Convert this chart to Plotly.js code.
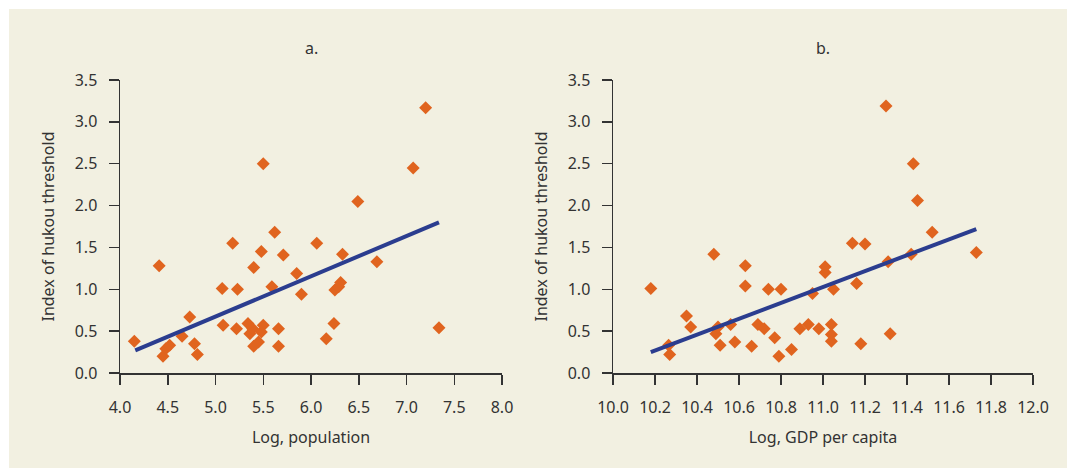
<!DOCTYPE html>
<html>
<head>
<meta charset="utf-8">
<script src="https://cdn.plot.ly/plotly-3.0.1.min.js"></script>
<style>
html,body{margin:0;padding:0;background:#fff;}
#chart{width:1067px;height:470px;}
</style>
</head>
<body>
<div id="chart"></div>
<script>
// Panel a: log population vs hukou index
const popX = [4.15,4.41,4.45,4.48,4.52,4.65,4.73,4.78,4.81,5.07,5.08,5.18,5.23,5.22,5.34,5.36,5.39,5.40,5.40,5.45,5.48,5.50,5.50,5.48,5.59,5.62,5.66,5.66,5.71,5.85,5.90,6.06,6.16,6.24,6.25,6.29,6.31,6.33,6.49,6.69,7.07,7.20,7.34];
const popY = [0.38,1.28,0.20,0.29,0.33,0.44,0.67,0.35,0.22,1.01,0.57,1.55,1.00,0.53,0.59,0.47,0.53,0.32,1.26,0.37,1.45,0.57,2.50,0.49,1.03,1.68,0.53,0.32,1.41,1.19,0.94,1.55,0.41,0.59,0.99,1.03,1.08,1.42,2.05,1.33,2.45,3.17,0.54];
const popFitX = [4.16, 7.34];
const popFitY = [0.27, 1.80];

// Panel b: log GDP per capita vs hukou index
const gdpX = [10.18,10.265,10.27,10.35,10.37,10.48,10.49,10.50,10.51,10.56,10.58,10.63,10.63,10.66,10.69,10.72,10.74,10.77,10.80,10.79,10.85,10.89,10.93,10.95,10.98,11.01,11.01,11.04,11.04,11.04,11.05,11.14,11.16,11.18,11.20,11.30,11.31,11.32,11.42,11.43,11.45,11.52,11.73];
const gdpY = [1.01,0.33,0.22,0.68,0.55,1.42,0.47,0.55,0.33,0.58,0.37,1.28,1.04,0.32,0.58,0.53,1.00,0.42,1.00,0.20,0.28,0.53,0.58,0.95,0.53,1.20,1.27,0.46,0.58,0.38,1.00,1.55,1.07,0.35,1.54,3.19,1.33,0.47,1.42,2.50,2.06,1.68,1.44];
const gdpFitX = [10.18, 11.73];
const gdpFitY = [0.25, 1.72];

const panelTitles = ["a.", "b."];
const xTitles = ["Log, population", "Log, GDP per capita"];
const yTitle = "Index of hukou threshold";

const ORANGE = "#e0641f";
const BLUE = "#2b3d8f";
const AXIS = "#333333";
const FONT = "'Noto Sans', 'Open Sans', sans-serif";
const FS = 16;

const W = 1067, H = 470;

const traces = [
  {x: popX, y: popY, type: "scatter", mode: "markers", xaxis: "x", yaxis: "y",
   marker: {symbol: "diamond", size: 10, color: ORANGE}},
  {x: popFitX, y: popFitY, type: "scatter", mode: "lines", xaxis: "x", yaxis: "y",
   line: {color: BLUE, width: 4}},
  {x: gdpX, y: gdpY, type: "scatter", mode: "markers", xaxis: "x2", yaxis: "y2",
   marker: {symbol: "diamond", size: 10, color: ORANGE}},
  {x: gdpFitX, y: gdpFitY, type: "scatter", mode: "lines", xaxis: "x2", yaxis: "y2",
   line: {color: BLUE, width: 4}}
];

function xAxis(range, dtick, domain, title, anchor) {
  return {
    domain: domain, range: range, dtick: dtick, tick0: range[0], tickformat: ".1f",
    anchor: anchor, showgrid: false, zeroline: false, showline: true,
    linecolor: AXIS, linewidth: 1.5, ticks: "outside", ticklen: 10, tickwidth: 1.5,
    tickcolor: AXIS, tickfont: {family: FONT, size: FS, color: AXIS}, ticklabelstandoff: 9,
    title: {text: title, font: {family: FONT, size: FS, color: AXIS}, standoff: 15},
    fixedrange: true
  };
}
function yAxis(anchor) {
  return {
    domain: [1 - 373 / H, 1 - 80 / H], range: [0, 3.5], dtick: 0.5, tick0: 0, tickformat: ".1f",
    anchor: anchor, showgrid: false, zeroline: false, showline: true,
    linecolor: AXIS, linewidth: 1.5, ticks: "outside", ticklen: 10, tickwidth: 1.5,
    tickcolor: AXIS, tickfont: {family: FONT, size: FS, color: AXIS}, ticklabelstandoff: 8,
    title: {text: yTitle, font: {family: FONT, size: FS, color: AXIS}, standoff: 16},
    fixedrange: true
  };
}

const domA = [120 / W, 502 / W];
const domB = [613 / W, 1033 / W];

const layout = {
  width: W, height: H,
  margin: {l: 0, r: 0, t: 0, b: 0},
  paper_bgcolor: "#ffffff",
  plot_bgcolor: "rgba(0,0,0,0)",
  showlegend: false,
  font: {family: FONT, color: AXIS},
  xaxis: xAxis([4, 8], 0.5, domA, xTitles[0], "y"),
  yaxis: yAxis("x"),
  xaxis2: xAxis([10, 12], 0.2, domB, xTitles[1], "y2"),
  yaxis2: yAxis("x2"),
  shapes: [
    {type: "rect", xref: "paper", yref: "paper", x0: 9 / W, x1: 1, y0: 1 - 468 / H, y1: 1 - 9 / H,
     fillcolor: "#f2f0e1", line: {width: 0}, layer: "below"}
  ],
  annotations: [
    {text: panelTitles[0], xref: "paper", yref: "paper", x: (domA[0] + domA[1]) / 2, y: 1 - 48 / H,
     xanchor: "center", yanchor: "middle", showarrow: false, font: {family: FONT, size: FS, color: AXIS}},
    {text: panelTitles[1], xref: "paper", yref: "paper", x: (domB[0] + domB[1]) / 2, y: 1 - 48 / H,
     xanchor: "center", yanchor: "middle", showarrow: false, font: {family: FONT, size: FS, color: AXIS}}
  ]
};

Plotly.newPlot("chart", traces, layout, {displayModeBar: false, staticPlot: true});
</script>
</body>
</html>
